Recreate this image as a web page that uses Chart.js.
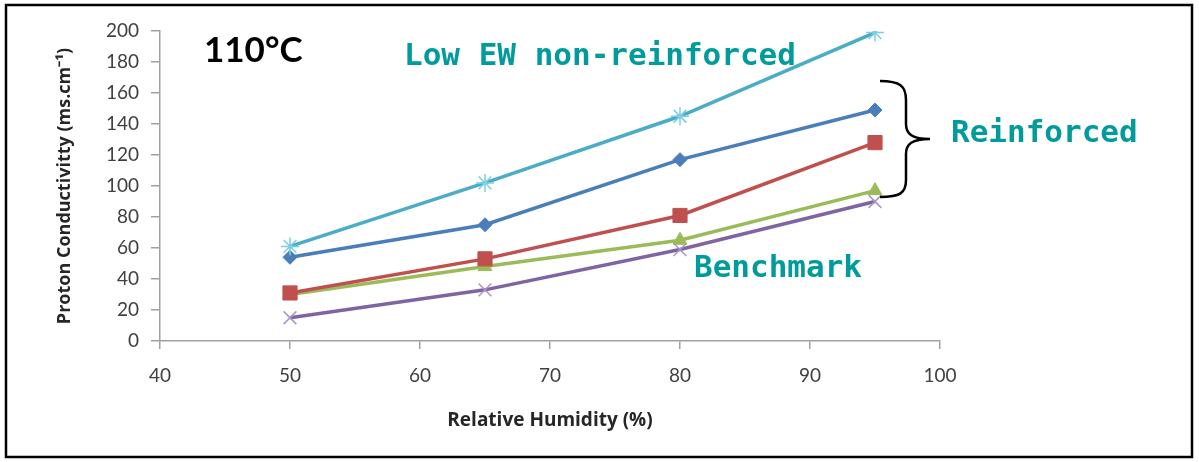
<!DOCTYPE html>
<html>
<head>
<meta charset="utf-8">
<script src="https://cdn.jsdelivr.net/npm/chart.js@4.4.0/dist/chart.umd.min.js"></script>
<style>
  body { margin: 0; background: #fff; }
</style>
</head>
<body>
<canvas id="myChart" width="1199" height="462"></canvas>
<script>
// relative humidity (%)
const humidity = [50, 65, 80, 95];

// proton conductivity (ms.cm-1)
const lowEW      = [61, 102, 145, 199];
const reinforced1 = [54, 75, 117, 149];
const reinforced2 = [31, 53, 81, 128];
const reinforced3 = [30, 48, 65, 97];
const benchmark  = [15, 33, 59, 90];

const yTicks = [0, 20, 40, 60, 80, 100, 120, 140, 160, 180, 200];
const xTicks = [40, 50, 60, 70, 80, 90, 100];

const teal = '#009b9a';
const axisGrey = '#a0a0a0';

function toPoints(vals){
	let pts = [];
	for(var i = 0; i < vals.length; i++){
		pts.push({x: humidity[i], y: vals[i]});
	}
	return pts;
}

function series(vals, color, markColor, style, radius, bw){
	return {
		data: toPoints(vals),
		borderColor: color,
		backgroundColor: color,
		pointBackgroundColor: color,
		pointBorderColor: markColor,
		borderWidth: 3.5,
		pointStyle: style,
		pointRadius: radius,
		pointBorderWidth: bw,
		tension: 0
	};
}

// text notes, brace and frame
const notes = {
	id: 'notes',
	afterDraw(chart){
		const ctx = chart.ctx;
		ctx.save();

		ctx.fillStyle = '#000';
		ctx.font = 'bold 35px Lato';
		ctx.textBaseline = 'alphabetic';
		ctx.textAlign = 'left';
		ctx.fillText('110°C', 204, 62);

		ctx.fillStyle = teal;
		ctx.font = 'bold 31px "DejaVu Sans Mono"';
		ctx.fillText('Low EW non-reinforced', 404, 65);
		ctx.fillText('Reinforced', 951, 142);
		ctx.fillText('Benchmark', 694, 277);

		// curly brace
		ctx.strokeStyle = '#000';
		ctx.lineWidth = 2.5;
		ctx.beginPath();
		ctx.moveTo(880, 81);
		ctx.bezierCurveTo(900, 81, 906, 86, 906, 100);
		ctx.lineTo(906, 124);
		ctx.bezierCurveTo(906, 134, 912, 139, 930, 139);
		ctx.bezierCurveTo(912, 139, 906, 144, 906, 154);
		ctx.lineTo(906, 180);
		ctx.bezierCurveTo(906, 193, 900, 197, 880, 197);
		ctx.stroke();

		// outer frame
		ctx.lineWidth = 2.5;
		ctx.strokeRect(6, 5, 1186, 452);
		ctx.restore();
	}
};

const config = {
	type: 'line',
	data: {
		datasets: [
			series(lowEW, '#4bacc6', '#7ccfe3', 'star', 9, 1.5),
			series(reinforced1, '#4a7ebb', '#4a7ebb', 'rectRot', 7, 1),
			series(reinforced2, '#c0504d', '#c0504d', 'rect', 10, 1),
			series(reinforced3, '#9bbb59', '#9bbb59', 'triangle', 8, 1),
			series(benchmark, '#8064a2', '#a996c8', 'crossRot', 9, 1.5)
		]
	},
	options: {
		responsive: false,
		animation: false,
		layout: { padding: { left: 0, top: 31, right: 259, bottom: 0 } },
		plugins: {
			legend: { display: false },
			tooltip: { enabled: false }
		},
		scales: {
			x: {
				type: 'linear',
				min: 40,
				max: 100,
				afterFit: function(scale){ scale.height = 121; },
				afterBuildTicks: function(scale){ scale.ticks = xTicks.map(v => ({value: v})); },
				grid: { drawOnChartArea: false, drawTicks: true, tickLength: 8, color: axisGrey, lineWidth: 1.5 },
				border: { display: true, color: axisGrey, width: 1.5 },
				ticks: { color: '#404040', font: { family: 'Lato', size: 19 }, padding: 15 },
				title: {
					display: true,
					text: 'Relative Humidity (%)',
					color: '#262626',
					font: { family: 'Open Sans', size: 19, weight: 'bold' },
					padding: { top: 0, bottom: 30 }
				}
			},
			y: {
				min: 0,
				max: 200,
				afterFit: function(scale){ scale.width = 160; },
				afterBuildTicks: function(scale){ scale.ticks = yTicks.map(v => ({value: v})); },
				grid: { drawOnChartArea: false, drawTicks: true, tickLength: 9, color: axisGrey, lineWidth: 1.5 },
				border: { display: true, color: axisGrey, width: 1.5 },
				ticks: { color: '#404040', font: { family: 'Lato', size: 19 }, padding: 12 },
				title: {
					display: true,
					text: 'Proton Conductivitty (ms.cm⁻¹)',
					color: '#262626',
					font: { family: 'Open Sans', size: 18, weight: 'bold' },
					padding: { top: 54, bottom: 0 }
				}
			}
		}
	},
	plugins: [notes]
};

var myChart = new Chart(document.getElementById('myChart'), config);
</script>
</body>
</html>
